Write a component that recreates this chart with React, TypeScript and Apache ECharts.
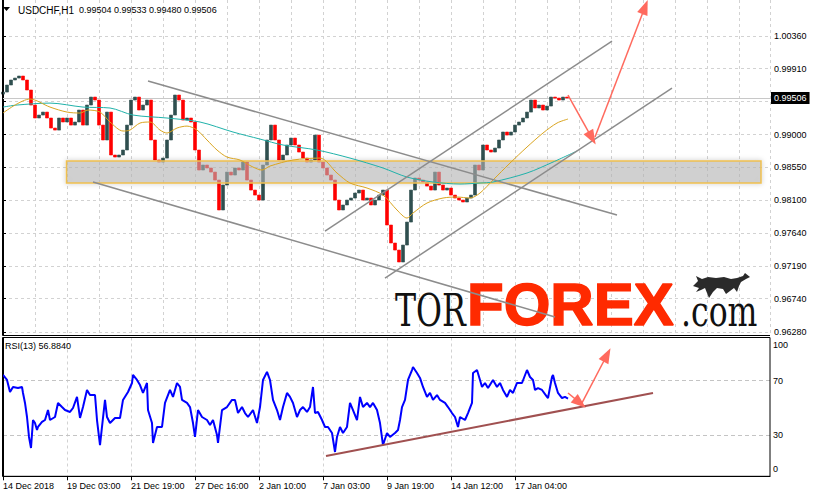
import { useEffect, useRef } from 'react';
import * as echarts from 'echarts';

const FONT = '"Liberation Sans", Arial, sans-serif';

// ---------- texts ----------
const headerSymbol = 'USDCHF,H1';
const headerOHLC = ['0.99504', '0.99533', '0.99480', '0.99506'];
const rsiTitle = 'RSI(13) 56.8840';

// ---------- axes ----------
const timeLabels = ['14 Dec 2018', '19 Dec 03:00', '21 Dec 19:00', '27 Dec 16:00', '2 Jan 10:00', '7 Jan 03:00', '9 Jan 19:00', '14 Jan 12:00', '17 Jan 04:00'];
const timeLabelStep = 64;
const barsOnScreen = 767;
const priceTicks = [0.9628, 0.9674, 0.9719, 0.9764, 0.981, 0.9855, 0.99, 0.9946, 0.9991, 1.0036];
const priceMin = 0.96239;
const priceMax = 1.00857;
const lastPrice = 0.99506;
const rsiLevels = [30, 70];
const rsiLabelPos = [5, 30, 70, 96];
const rsiLabelText = ['0', '30', '70', '100'];

// ---------- price (H1 closes, one every 4 bars) ----------
const candleStep = 4;
const firstOpen = 0.9956;
const closes = [
  0.99588, 0.99685, 0.99754, 0.99781, 0.99809, 0.99754, 0.99616, 0.99409, 0.9923, 0.99271,
  0.99312, 0.9923, 0.99092, 0.99064, 0.9923, 0.99175, 0.9923, 0.99133, 0.99175, 0.9934,
  0.99133, 0.99409, 0.99519, 0.99478, 0.99133, 0.98927, 0.99312, 0.9872, 0.98692, 0.9872,
  0.98789, 0.99133, 0.99478, 0.99519, 0.9934, 0.99409, 0.99478, 0.98927, 0.98651, 0.98623,
  0.98678, 0.98927, 0.99271, 0.99547, 0.99478, 0.99202, 0.9923, 0.99175, 0.98789, 0.98513,
  0.98582, 0.98541, 0.98485, 0.98375, 0.97962, 0.98306, 0.98485, 0.98444, 0.98541, 0.98513,
  0.98623, 0.98375, 0.98237, 0.98168, 0.98099, 0.98582, 0.98927, 0.99133, 0.98927, 0.98651,
  0.9872, 0.98858, 0.98954, 0.98858, 0.98761, 0.98678, 0.98623, 0.98651, 0.98995, 0.98623,
  0.98541, 0.98444, 0.98375, 0.98099, 0.97962, 0.98031, 0.98099, 0.98127, 0.98196, 0.98237,
  0.98099, 0.98127, 0.98031, 0.98099, 0.98168, 0.98237, 0.97755, 0.97507, 0.9741, 0.97245,
  0.97479, 0.97796, 0.98237, 0.98403, 0.98375, 0.98348, 0.98292, 0.98237, 0.98485, 0.98306,
  0.98237, 0.98265, 0.98168, 0.98127, 0.98099, 0.98072, 0.98127, 0.98168, 0.98582, 0.98513,
  0.98858, 0.98789, 0.98761, 0.98816, 0.98927, 0.99037, 0.98995, 0.99037, 0.99133, 0.99175,
  0.9923, 0.99312, 0.99478, 0.99368, 0.99409, 0.9934, 0.99395, 0.99519, 0.99505, 0.99478,
  0.99519, 0.99506,
];

// ---------- moving averages ----------
const maFastBar = [0, 27, 47, 64, 77, 85, 97, 107, 120, 127, 137, 147, 157, 164, 174, 184, 194, 204, 214, 224, 237, 250, 259, 267, 290, 317, 334, 347, 364, 380, 394, 404, 410, 424, 440, 454, 467, 477, 490, 507, 524, 540, 554, 565];
const maFastVal = [0.99299, 0.99492, 0.99381, 0.99312, 0.99299, 0.9934, 0.99312, 0.99175, 0.99051, 0.99064, 0.99161, 0.99175, 0.99064, 0.99023, 0.99092, 0.99119, 0.99064, 0.98927, 0.98789, 0.98692, 0.98651, 0.98554, 0.98513, 0.98568, 0.98651, 0.98678, 0.98472, 0.98334, 0.98265, 0.98168, 0.97962, 0.97851, 0.9792, 0.98058, 0.98127, 0.98141, 0.98127, 0.98196, 0.98375, 0.98609, 0.9883, 0.99023, 0.99161, 0.99216];
const maSlowBar = [0, 14, 47, 80, 107, 130, 164, 197, 230, 257, 280, 314, 347, 380, 404, 430, 457, 477, 490, 524, 550, 574];
const maSlowVal = [0.99381, 0.99409, 0.99436, 0.99381, 0.99368, 0.99271, 0.9923, 0.99175, 0.99037, 0.9894, 0.98858, 0.98789, 0.98678, 0.98541, 0.98416, 0.98348, 0.9832, 0.98334, 0.98348, 0.98472, 0.98623, 0.98775];

// ---------- RSI(13) ----------
const rsiBar = [0, 4, 7, 10, 15, 19, 20, 22, 24, 26, 28, 30, 32, 34, 35, 39, 42, 45, 47, 52, 55, 59, 62, 67, 70, 74, 77, 80, 84, 87, 92, 94, 97, 99, 102, 104, 107, 112, 117, 120, 125, 129, 130, 134, 137, 140, 144, 145, 149, 150, 154, 159, 162, 167, 170, 174, 177, 179, 184, 187, 190, 192, 195, 199, 204, 207, 210, 214, 215, 219, 224, 229, 232, 235, 239, 242, 245, 250, 254, 257, 260, 264, 267, 270, 274, 277, 280, 284, 287, 290, 294, 297, 300, 304, 307, 310, 312, 315, 319, 322, 325, 329, 332, 334, 337, 340, 344, 347, 350, 354, 357, 360, 364, 367, 370, 374, 377, 380, 384, 387, 392, 395, 397, 399, 402, 405, 409, 410, 414, 417, 420, 424, 427, 430, 434, 437, 442, 445, 449, 452, 455, 457, 462, 465, 469, 470, 474, 477, 479, 482, 485, 490, 494, 497, 500, 504, 507, 510, 514, 519, 524, 527, 530, 532, 535, 539, 544, 545, 549, 550, 552, 555, 559, 562, 565];
const rsiVal = [74.2, 70.5, 61.7, 65.4, 64.6, 65.4, 61.0, 53.7, 43.4, 28.8, 20.7, 41.2, 39.0, 33.9, 36.1, 39.8, 41.2, 48.5, 41.2, 43.4, 53.7, 50.7, 48.5, 47.1, 50.0, 58.1, 42.7, 50.7, 63.2, 59.5, 59.5, 41.2, 22.9, 36.1, 55.9, 43.4, 39.0, 42.7, 42.7, 55.9, 61.7, 68.3, 74.2, 70.5, 66.8, 61.0, 68.3, 48.5, 39.0, 24.4, 36.1, 36.1, 53.7, 63.2, 58.1, 68.3, 65.4, 55.9, 53.7, 50.7, 39.0, 28.8, 48.5, 43.4, 41.2, 37.6, 41.2, 30.2, 24.4, 48.5, 50.7, 55.9, 55.9, 46.3, 50.7, 46.3, 43.4, 48.5, 39.0, 50.7, 70.5, 76.4, 70.5, 55.9, 48.5, 41.2, 50.7, 61.0, 58.1, 53.7, 43.4, 48.5, 50.7, 47.1, 50.7, 65.4, 46.3, 47.1, 41.2, 36.1, 36.1, 31.7, 17.8, 28.8, 36.1, 31.7, 36.1, 53.7, 48.5, 41.2, 58.1, 50.7, 53.7, 50.7, 53.7, 48.5, 39.0, 22.9, 31.7, 28.8, 31.7, 33.9, 41.2, 50.7, 55.9, 70.5, 77.8, 80.0, 75.6, 72.0, 65.4, 58.1, 61.0, 55.9, 59.5, 55.9, 53.7, 50.7, 46.3, 43.4, 36.1, 43.4, 41.2, 46.3, 53.7, 75.6, 77.8, 70.5, 65.4, 68.3, 64.6, 70.5, 65.4, 68.3, 63.2, 58.1, 63.2, 61.0, 68.3, 68.3, 77.8, 72.7, 70.5, 63.2, 64.6, 63.2, 58.1, 57.3, 72.7, 74.2, 68.3, 61.0, 57.3, 58.1, 56.9];

// ---------- drawings (bar, value, bar, value) ----------
const zoneBars = [63.5, 758];
const zonePrices = [0.98334, 0.98637];
const channelLines = [
  [145, 0.9974, 614, 0.97893],
  [90, 0.98348, 552, 0.96487],
  [382, 0.97024, 669, 0.99643],
  [322, 0.97672, 609, 1.00291],
];
const priceArrows = [
  [565, 0.99547, 589, 0.98954],
  [592, 0.98968, 642, 1.0076],
];
const rsiTrend = [323, 14.9, 650, 61.0];
const rsiArrows = [
  [565, 61.0, 577, 53.7],
  [579, 53.7, 604, 88.8],
];

const bullPath = 'M0 13 L5 8 L3 3 L9 6 L15 4 L23 5 L31 4 L38 6 L44 5 L50 3 L52 0 L57 4 L53 6 L48 9 L46 13 L44 19 L41 15 L37 18 L33 21 L30 16 L24 15 L20 19 L16 25 L14 20 L12 15 L8 17 L3 19 L6 15 Z';
echarts.graphic.registerShape('bull', echarts.graphic.extendPath(bullPath, {}));

const ARROW = '#FF6A5E';

function segLines(list: number[][], color: string, width: number, arrow: boolean) {
  return list.map((s) => [
    { coord: [s[0], s[1]], symbol: 'none' },
    {
      coord: [s[2], s[3]],
      symbol: arrow ? 'triangle' : 'none',
      symbolSize: [11, 15],
      lineStyle: { color, width, type: 'solid' },
      itemStyle: { color },
    },
  ]);
}

export default function App() {
  const ref = useRef<HTMLDivElement>(null);
  useEffect(() => {
    if (!ref.current) return;
    const chart = echarts.init(ref.current, null, { renderer: 'svg' });

    const candles = closes.map((c, i) => {
      const o = i === 0 ? firstOpen : closes[i - 1];
      return [i * candleStep, o, c, Math.min(o, c), Math.max(o, c)];
    });
    const labelTicks = timeLabels.map((_, i) => i * timeLabelStep);

    const gridLineStyle = { color: '#D2D2D2', type: [3, 3] as any, width: 1 };

    const option: any = {
      animation: false,
      backgroundColor: '#fff',
      textStyle: { fontFamily: FONT },
      grid: [
        { left: 3, top: 0, width: barsOnScreen, height: 335, show: false },
        { left: 3, top: 337.5, width: barsOnScreen, height: 138.8, show: false },
      ],
      xAxis: [
        {
          type: 'value', gridIndex: 0, min: 0, max: barsOnScreen, interval: 32,
          axisLine: { show: false }, axisTick: { show: false }, axisLabel: { show: false },
          splitLine: { show: true, lineStyle: gridLineStyle },
        },
        {
          type: 'value', gridIndex: 1, min: 0, max: barsOnScreen, interval: 32,
          axisLine: { show: true, onZero: false, lineStyle: { color: '#000' } },
          axisTick: { show: true, customValues: labelTicks, length: 4, lineStyle: { color: '#000' } },
          axisLabel: {
            show: true, customValues: labelTicks, align: 'left', margin: 5, fontSize: 9, color: '#000', fontFamily: FONT,
            formatter: (v: number) => timeLabels[Math.round(v / timeLabelStep)] ?? '',
          },
          splitLine: { show: true, lineStyle: gridLineStyle },
        },
      ],
      yAxis: [
        {
          type: 'value', gridIndex: 0, position: 'right', min: priceMin, max: priceMax,
          axisLine: { show: true, lineStyle: { color: '#000' } },
          axisTick: { show: true, customValues: priceTicks, length: 3, lineStyle: { color: '#000' } },
          axisLabel: { customValues: priceTicks, formatter: (v: number) => v.toFixed(5), fontSize: 9, color: '#000', margin: 4, fontFamily: FONT },
          splitLine: { show: false },
        },
        {
          type: 'value', gridIndex: 1, position: 'right', min: 0, max: 101.6,
          axisLine: { show: true, lineStyle: { color: '#000' } },
          axisTick: { show: false },
          axisLabel: {
            customValues: rsiLabelPos, fontSize: 9, color: '#000', margin: 3, fontFamily: FONT,
            formatter: (v: number) => rsiLabelText[rsiLabelPos.indexOf(v)] ?? '',
          },
          splitLine: { show: false },
        },
      ],
      series: [
        {
          name: 'gridPrice', type: 'line', xAxisIndex: 0, yAxisIndex: 0, data: [], silent: true,
          markLine: { z: 0, precision: 6, silent: true, symbol: 'none', label: { show: false }, lineStyle: gridLineStyle, data: priceTicks.map((v) => ({ yAxis: v })) },
        },
        {
          name: 'gridRsi', type: 'line', xAxisIndex: 1, yAxisIndex: 1, data: [], silent: true,
          markLine: { z: 0, precision: 3, silent: true, symbol: 'none', label: { show: false }, lineStyle: { color: '#C4C4C4', type: [4, 3], width: 1 }, data: rsiLevels.map((v) => ({ yAxis: v })) },
        },
        {
          name: 'bid', type: 'line', xAxisIndex: 0, yAxisIndex: 0, data: [], silent: true,
          markLine: {
            z: 1, precision: 6, silent: true, symbol: 'none',
            lineStyle: { color: '#C8C8C8', type: 'solid', width: 1 },
            label: { show: true, position: 'end', distance: 1, formatter: lastPrice.toFixed(5), backgroundColor: '#000', color: '#fff', padding: [2, 3, 1, 3], fontSize: 9, fontFamily: FONT },
            data: [{ yAxis: lastPrice }],
          },
        },
        {
          name: 'USDCHF', type: 'candlestick', xAxisIndex: 0, yAxisIndex: 0, z: 2,
          data: candles, encode: { x: 0, y: [1, 2, 3, 4] }, barWidth: 3,
          itemStyle: { color: '#2F4F4F', color0: '#FF0000', borderColor: '#2F4F4F', borderColor0: '#FF0000', borderWidth: 0.6 },
          silent: true,
        },
        {
          name: 'zone', type: 'line', xAxisIndex: 0, yAxisIndex: 0, data: [], silent: true,
          markArea: {
            z: 3, silent: true,
            itemStyle: { color: 'rgba(185,185,185,0.55)', borderColor: '#EFC050', borderWidth: 1.5, shadowBlur: 5, shadowColor: 'rgba(0,0,0,0.25)' },
            data: [[{ coord: [zoneBars[0], zonePrices[1]] }, { coord: [zoneBars[1], zonePrices[0]] }]],
          },
        },
        {
          name: 'MA slow', type: 'line', xAxisIndex: 0, yAxisIndex: 0, z: 4, showSymbol: false, smooth: 0.3, silent: true,
          data: maSlowBar.map((b, i) => [b, maSlowVal[i]]), lineStyle: { color: '#20B2AA', width: 1 },
        },
        {
          name: 'MA fast', type: 'line', xAxisIndex: 0, yAxisIndex: 0, z: 4, showSymbol: false, smooth: 0.3, silent: true,
          data: maFastBar.map((b, i) => [b, maFastVal[i]]), lineStyle: { color: '#DAA520', width: 1 },
        },
        {
          name: 'drawings', type: 'line', xAxisIndex: 0, yAxisIndex: 0, data: [], silent: true,
          markLine: {
            z: 5, precision: 6, silent: true, label: { show: false },
            lineStyle: { color: '#888', width: 1.5, type: 'solid' },
            data: [...segLines(channelLines, '#8C8C8C', 1.5, false), ...segLines(priceArrows, ARROW, 1.5, true)],
          },
        },
        {
          name: 'RSI', type: 'line', xAxisIndex: 1, yAxisIndex: 1, z: 4, showSymbol: false, silent: true,
          data: rsiBar.map((b, i) => [b, rsiVal[i]]), lineStyle: { color: '#0000FF', width: 2 },
        },
        {
          name: 'rsiDrawings', type: 'line', xAxisIndex: 1, yAxisIndex: 1, data: [], silent: true,
          markLine: {
            z: 5, precision: 4, silent: true, label: { show: false },
            data: [...segLines([rsiTrend], '#A05050', 2, false), ...segLines(rsiArrows, ARROW, 1.5, true)],
          },
        },
      ],
      graphic: [
        { type: 'line', z: 6, shape: { x1: 2.5, y1: 0, x2: 2.5, y2: 335.5 }, style: { stroke: '#000', lineWidth: 1 } },
        { type: 'line', z: 6, shape: { x1: 2.5, y1: 335.5, x2: 770, y2: 335.5 }, style: { stroke: '#000', lineWidth: 1 } },
        { type: 'rect', z: 6, shape: { x: 2.5, y: 337.5, width: 767.5, height: 138.8 }, style: { fill: 'none', stroke: '#000', lineWidth: 1 } },
        { type: 'polygon', z: 10, shape: { points: [[3, 7], [10, 7], [6.5, 11]] }, style: { fill: '#000' } },
        { type: 'text', z: 10, x: 18, y: 10, style: { text: headerSymbol, fontSize: 10, fontFamily: FONT, fill: '#000', verticalAlign: 'middle' } },
        { type: 'text', z: 10, x: 79, y: 10, style: { text: headerOHLC.join(' '), fontSize: 9, fontFamily: FONT, fill: '#000', verticalAlign: 'middle' } },
        { type: 'text', z: 10, x: 5, y: 346, style: { text: rsiTitle, fontSize: 9, fontFamily: FONT, fill: '#000', verticalAlign: 'middle' } },
        { type: 'text', z: 1, x: 395, y: 311, scaleX: 0.72, style: { text: 'TOR', fontSize: 44, fontFamily: '"DejaVu Serif", serif', fill: '#111', verticalAlign: 'middle' } },
        { type: 'text', z: 1, x: 467, y: 304, style: { text: 'FOREX', fontSize: 60, fontWeight: 'bold', fontFamily: FONT, fill: '#FF2A00', stroke: '#FF2A00', lineWidth: 1.5, verticalAlign: 'middle' } },
        { type: 'text', z: 1, x: 681, y: 312, scaleX: 0.75, style: { text: '.com', fontSize: 42, fontFamily: '"DejaVu Serif", serif', fill: '#111', verticalAlign: 'middle' } },
        { type: 'bull', z: 1, x: 693, y: 273, style: { fill: '#2a2a2a' } },
      ],
    };
    chart.setOption(option);
    return () => chart.dispose();
  }, []);
  return <div ref={ref} style={{ position: 'fixed', left: 0, top: 0, width: 815, height: 497 }} />;
}
